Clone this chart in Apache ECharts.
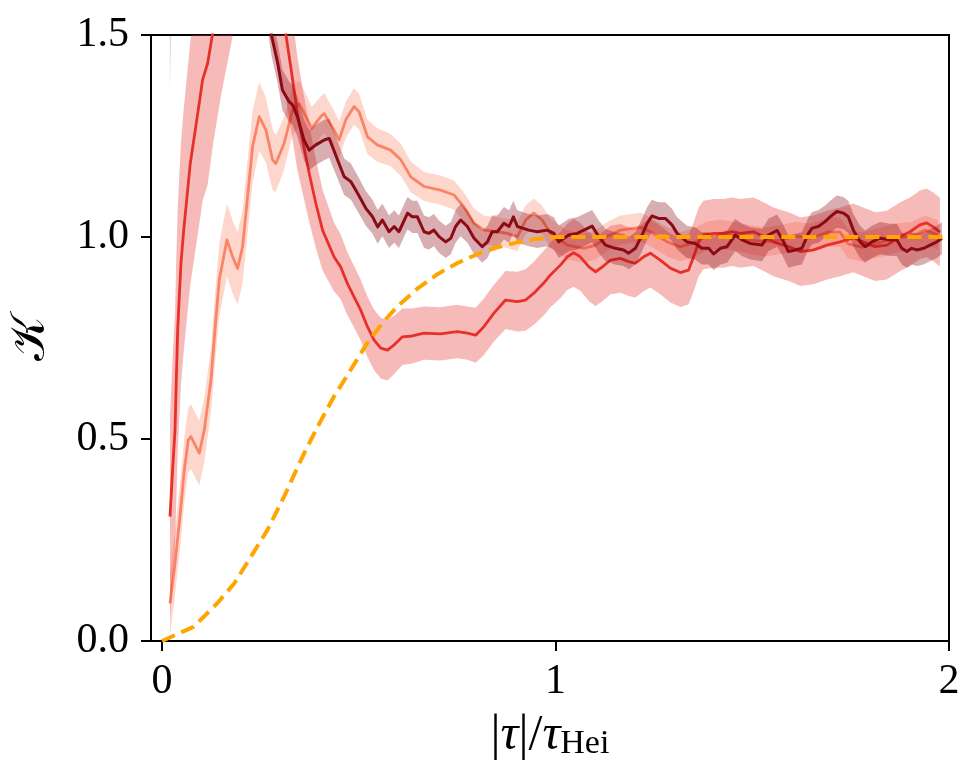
<!DOCTYPE html>
<html>
<head>
<meta charset="utf-8">
<script src="https://cdn.jsdelivr.net/npm/echarts@6/dist/echarts.min.js"></script>
<style>
  html, body { margin: 0; padding: 0; background: #fff; }
  #main { width: 979px; height: 780px; }
</style>
</head>
<body>
<div id="main"></div>
<script>
// tick positions
var xTicks = [0, 1, 2];
var yTicks = [0, 0.5, 1, 1.5];

// each row: [tau, K, half width of the shaded band]
var salmonData = [
    [0.0203, 0.093, 0.08], [0.033, 0.192, 0.08], [0.0464, 0.316, 0.08], [0.0566, 0.423, 0.08],
    [0.0668, 0.498, 0.08], [0.0736, 0.506, 0.08], [0.0863, 0.481, 0.08], [0.0947, 0.465, 0.08],
    [0.1074, 0.522, 0.08], [0.1244, 0.646, 0.08], [0.1345, 0.770, 0.085], [0.1455, 0.894, 0.09],
    [0.165, 0.993, 0.09], [0.1794, 0.951, 0.09], [0.192, 0.922, 0.09], [0.2048, 0.976, 0.09],
    [0.2175, 1.100, 0.09], [0.2302, 1.224, 0.09], [0.247, 1.298, 0.085], [0.264, 1.265, 0.08],
    [0.281, 1.191, 0.075], [0.2893, 1.182, 0.07], [0.3104, 1.232, 0.065], [0.3317, 1.314, 0.06],
    [0.3485, 1.330, 0.058], [0.370, 1.290, 0.055], [0.380, 1.269, 0.053], [0.4036, 1.298, 0.05],
    [0.412, 1.306, 0.05], [0.437, 1.265, 0.048], [0.450, 1.240, 0.046], [0.467, 1.290, 0.045],
    [0.488, 1.323, 0.045], [0.501, 1.310, 0.044], [0.522, 1.248, 0.043], [0.547, 1.228, 0.042],
    [0.581, 1.215, 0.04], [0.607, 1.191, 0.04], [0.632, 1.149, 0.038], [0.666, 1.125, 0.036],
    [0.708, 1.116, 0.036], [0.742, 1.104, 0.036], [0.767, 1.075, 0.036], [0.793, 1.034, 0.036],
    [0.818, 1.017, 0.036], [0.852, 1.013, 0.036], [0.877, 1.009, 0.036], [0.903, 1.001, 0.036],
    [0.924, 1.042, 0.036], [0.945, 1.059, 0.036], [0.966, 1.042, 0.036], [0.987, 1.009, 0.036],
    [1.000, 1.001, 0.036], [1.030, 0.980, 0.036], [1.072, 0.972, 0.036], [1.102, 0.980, 0.036],
    [1.131, 1.001, 0.036], [1.165, 1.017, 0.036], [1.216, 1.024, 0.036], [1.241, 1.013, 0.036],
    [1.284, 0.988, 0.036], [1.317, 0.976, 0.036], [1.350, 0.985, 0.036], [1.383, 1.002, 0.036],
    [1.418, 1.007, 0.036], [1.457, 1.002, 0.036], [1.495, 0.993, 0.036], [1.533, 0.988, 0.036],
    [1.571, 0.993, 0.036], [1.609, 1.002, 0.036], [1.647, 0.997, 0.036], [1.693, 1.012, 0.036],
    [1.723, 1.012, 0.036], [1.744, 0.983, 0.036], [1.779, 0.975, 0.036], [1.830, 0.988, 0.036],
    [1.871, 0.998, 0.036], [1.906, 1.002, 0.036], [1.939, 1.017, 0.036], [1.972, 1.005, 0.036]
];

var redData = [
    [0.0203, 0.308, 0.25], [0.0254, 0.399, 0.27], [0.033, 0.522, 0.29], [0.0363, 0.646, 0.3],
    [0.0398, 0.770, 0.3], [0.0439, 0.852, 0.3], [0.0482, 0.935, 0.3], [0.0551, 1.017, 0.3],
    [0.0635, 1.100, 0.3], [0.0718, 1.182, 0.3], [0.0845, 1.265, 0.3], [0.097, 1.347, 0.3],
    [0.103, 1.389, 0.3], [0.116, 1.430, 0.3], [0.130, 1.512, 0.28], [0.150, 1.62, 0.27],
    [0.200, 1.85, 0.25], [0.250, 1.82, 0.22], [0.290, 1.64, 0.18], [0.315, 1.500, 0.16],
    [0.332, 1.389, 0.15], [0.344, 1.306, 0.14], [0.357, 1.240, 0.13], [0.374, 1.158, 0.12],
    [0.391, 1.083, 0.11], [0.408, 1.017, 0.1], [0.437, 0.951, 0.085], [0.454, 0.926, 0.08],
    [0.471, 0.885, 0.078], [0.488, 0.852, 0.076], [0.505, 0.819, 0.075], [0.522, 0.778, 0.075],
    [0.539, 0.745, 0.075], [0.556, 0.725, 0.075], [0.573, 0.720, 0.075], [0.590, 0.733, 0.072],
    [0.611, 0.753, 0.07], [0.636, 0.755, 0.068], [0.666, 0.762, 0.066], [0.708, 0.760, 0.066],
    [0.750, 0.766, 0.066], [0.776, 0.762, 0.066], [0.797, 0.757, 0.068], [0.818, 0.778, 0.07],
    [0.843, 0.811, 0.07], [0.873, 0.844, 0.072], [0.903, 0.840, 0.074], [0.924, 0.844, 0.076],
    [0.945, 0.861, 0.078], [0.970, 0.886, 0.08], [0.987, 0.906, 0.08], [1.013, 0.931, 0.082],
    [1.030, 0.951, 0.082], [1.046, 0.961, 0.084], [1.063, 0.951, 0.084], [1.085, 0.926, 0.085],
    [1.102, 0.914, 0.085], [1.119, 0.926, 0.085], [1.140, 0.943, 0.085], [1.165, 0.947, 0.085],
    [1.186, 0.939, 0.085], [1.203, 0.935, 0.085], [1.224, 0.951, 0.085], [1.241, 0.960, 0.085],
    [1.266, 0.943, 0.085], [1.292, 0.923, 0.085], [1.317, 0.912, 0.085], [1.338, 0.918, 0.085],
    [1.351, 0.951, 0.085], [1.364, 0.988, 0.085], [1.376, 1.005, 0.085], [1.402, 1.009, 0.085],
    [1.427, 1.009, 0.085], [1.448, 1.013, 0.085], [1.470, 1.009, 0.085], [1.503, 1.013, 0.085],
    [1.529, 1.001, 0.085], [1.554, 0.988, 0.085], [1.596, 0.975, 0.085], [1.622, 0.964, 0.085],
    [1.656, 0.968, 0.085], [1.690, 0.980, 0.085], [1.723, 0.988, 0.085], [1.757, 0.998, 0.085],
    [1.782, 0.988, 0.085], [1.812, 0.976, 0.085], [1.842, 0.980, 0.085], [1.876, 1.001, 0.085],
    [1.901, 1.013, 0.085], [1.926, 1.030, 0.085], [1.943, 1.035, 0.085], [1.960, 1.025, 0.085],
    [1.977, 1.012, 0.085]
];

var darkRedData = [
    [0.020, 1.95, 0.59], [0.030, 2.60, 0.50], [0.100, 2.50, 0.45], [0.200, 2.05, 0.15],
    [0.250, 1.72, 0.08], [0.278, 1.50, 0.05], [0.294, 1.430, 0.05], [0.306, 1.364, 0.05],
    [0.323, 1.335, 0.05], [0.332, 1.327, 0.05], [0.344, 1.298, 0.05], [0.361, 1.240, 0.05],
    [0.374, 1.215, 0.05], [0.391, 1.228, 0.05], [0.412, 1.240, 0.05], [0.425, 1.244, 0.048],
    [0.433, 1.224, 0.048], [0.446, 1.191, 0.046], [0.463, 1.149, 0.045], [0.480, 1.137, 0.045],
    [0.497, 1.108, 0.044], [0.518, 1.071, 0.043], [0.535, 1.050, 0.042], [0.548, 1.025, 0.042],
    [0.560, 1.042, 0.04], [0.577, 1.013, 0.04], [0.590, 1.026, 0.04], [0.602, 1.013, 0.04],
    [0.624, 1.059, 0.04], [0.636, 1.050, 0.04], [0.649, 1.050, 0.04], [0.666, 1.013, 0.04],
    [0.678, 1.009, 0.04], [0.691, 1.017, 0.04], [0.704, 1.001, 0.04], [0.721, 0.988, 0.04],
    [0.734, 0.997, 0.04], [0.746, 1.026, 0.04], [0.759, 1.042, 0.04], [0.776, 1.026, 0.04],
    [0.793, 0.997, 0.04], [0.814, 0.976, 0.04], [0.827, 0.988, 0.04], [0.839, 1.013, 0.04],
    [0.852, 1.013, 0.04], [0.869, 1.034, 0.04], [0.882, 1.026, 0.04], [0.893, 1.050, 0.04],
    [0.903, 1.026, 0.04], [0.916, 1.022, 0.04], [0.932, 1.017, 0.04], [0.954, 1.013, 0.04],
    [0.979, 1.017, 0.04], [0.996, 1.009, 0.04], [1.008, 0.988, 0.04], [1.034, 1.005, 0.04],
    [1.055, 1.009, 0.04], [1.072, 1.017, 0.04], [1.093, 1.027, 0.04], [1.110, 1.001, 0.04],
    [1.127, 0.980, 0.04], [1.152, 0.972, 0.04], [1.173, 0.968, 0.04], [1.186, 0.960, 0.04],
    [1.203, 0.972, 0.04], [1.220, 1.005, 0.04], [1.233, 1.034, 0.04], [1.245, 1.052, 0.04],
    [1.262, 1.046, 0.04], [1.279, 1.046, 0.04], [1.296, 1.030, 0.04], [1.309, 1.009, 0.04],
    [1.334, 0.988, 0.04], [1.355, 0.984, 0.04], [1.372, 0.972, 0.04], [1.389, 0.972, 0.04],
    [1.402, 0.958, 0.04], [1.419, 0.972, 0.04], [1.436, 0.976, 0.04], [1.457, 1.005, 0.04],
    [1.474, 0.993, 0.04], [1.495, 0.984, 0.04], [1.525, 0.980, 0.04], [1.541, 1.005, 0.04],
    [1.563, 1.016, 0.04], [1.575, 0.997, 0.04], [1.592, 0.964, 0.04], [1.609, 0.968, 0.04],
    [1.626, 0.972, 0.04], [1.643, 1.009, 0.04], [1.652, 1.022, 0.04], [1.668, 1.026, 0.04],
    [1.685, 1.038, 0.04], [1.698, 1.050, 0.04], [1.715, 1.063, 0.04], [1.732, 1.059, 0.04],
    [1.744, 1.050, 0.04], [1.757, 1.017, 0.04], [1.774, 0.988, 0.04], [1.787, 0.976, 0.04],
    [1.804, 0.988, 0.04], [1.825, 0.997, 0.04], [1.850, 0.993, 0.04], [1.867, 0.993, 0.04],
    [1.880, 0.972, 0.04], [1.893, 0.964, 0.04], [1.905, 0.972, 0.04], [1.918, 0.968, 0.04],
    [1.935, 0.972, 0.04], [1.952, 0.980, 0.04], [1.969, 0.988, 0.04], [1.982, 0.997, 0.04]
];

// reference curve (dashed)
var refTau = [0, 0.08, 0.14, 0.184, 0.226, 0.268, 0.31, 0.353, 0.395, 0.437, 0.48, 0.52,
              0.56, 0.6, 0.65, 0.7, 0.75, 0.8, 0.85, 0.9, 0.95, 1.0, 2.0];
var refK = [0, 0.035, 0.093, 0.143, 0.209, 0.275, 0.357, 0.448, 0.53, 0.605, 0.672, 0.735,
            0.787, 0.83, 0.873, 0.908, 0.935, 0.957, 0.974, 0.986, 0.995, 1.0, 1.0];

var SERIF = "'Liberation Serif', 'DejaVu Serif', serif";

function bandSeries(rows, color, z) {
    return {
        type: 'custom',
        silent: true,
        clip: true,
        z: z,
        data: [[1, 1]],
        renderItem: function (params, api) {
            var pts = [];
            rows.forEach(function (r) {
                pts.push(api.coord([r[0], r[1] + r[2]]));
            });
            for (var i = rows.length - 1; i >= 0; i--) {
                pts.push(api.coord([rows[i][0], rows[i][1] - rows[i][2]]));
            }
            return {
                type: 'polygon',
                shape: {points: pts},
                style: {fill: color}
            };
        }
    };
}

function lineSeries(rows, color, width, z) {
    return {
        type: 'line',
        silent: true,
        z: z,
        showSymbol: false,
        clip: true,
        data: rows.map(function (r) { return [r[0], r[1]]; }),
        lineStyle: {color: color, width: width, join: 'round'},
        itemStyle: {color: color}
    };
}

var myChart = echarts.init(document.getElementById('main'));
var option = {
    animation: false,
    grid: {
        left: 150, right: 30, top: 35, bottom: 139,
        show: true, borderColor: '#000', borderWidth: 2, backgroundColor: 'transparent'
    },
    xAxis: {
        type: 'value',
        min: -0.028,
        max: 2,
        name: '{n||}{i|τ}{n||/}{i|τ}{s|Hei}',
        nameLocation: 'middle',
        nameGap: 70,
        nameTextStyle: {
            rich: {
                n: {fontFamily: SERIF, fontSize: 50, color: '#000'},
                i: {fontFamily: SERIF, fontSize: 50, fontStyle: 'italic', color: '#000'},
                s: {fontFamily: SERIF, fontSize: 34, color: '#000', verticalAlign: 'bottom', padding: [16, 0, 0, 0]}
            }
        },
        axisLine: {onZero: false, lineStyle: {color: '#000', width: 2}},
        axisTick: {customValues: xTicks, length: 10, lineStyle: {color: '#000', width: 2}},
        axisLabel: {
            customValues: xTicks,
            margin: 20,
            fontFamily: SERIF, fontSize: 42, color: '#000'
        },
        splitLine: {show: false}
    },
    yAxis: {
        type: 'value',
        min: 0,
        max: 1.5,
        name: '𝒦',
        nameLocation: 'middle',
        nameGap: 95,
        nameTextStyle: {fontFamily: "'DejaVu Serif', 'DejaVu Sans', serif", fontSize: 48, color: '#000'},
        axisLine: {onZero: false, lineStyle: {color: '#000', width: 2}},
        axisTick: {customValues: yTicks, length: 10, lineStyle: {color: '#000', width: 2}},
        axisLabel: {
            customValues: yTicks,
            margin: 22,
            fontFamily: SERIF, fontSize: 42, color: '#000',
            formatter: function (v) { return v.toFixed(1); }
        },
        splitLine: {show: false}
    },
    series: [
        bandSeries(salmonData, 'rgba(251,140,110,0.35)', 2),
        lineSeries(salmonData, '#fa8468', 2.8, 3),
        bandSeries(redData, 'rgba(228,50,42,0.33)', 4),
        lineSeries(redData, '#e8302a', 2.8, 5),
        bandSeries(darkRedData, 'rgba(139,10,20,0.33)', 6),
        lineSeries(darkRedData, '#8b0a14', 3, 7),
        {
            type: 'line',
            silent: true,
            z: 8,
            showSymbol: false,
            data: refTau.map(function (t, i) { return [t, refK[i]]; }),
            lineStyle: {color: '#ffa500', width: 4, type: [14, 7]}
        }
    ]
};
myChart.setOption(option);
</script>
</body>
</html>
